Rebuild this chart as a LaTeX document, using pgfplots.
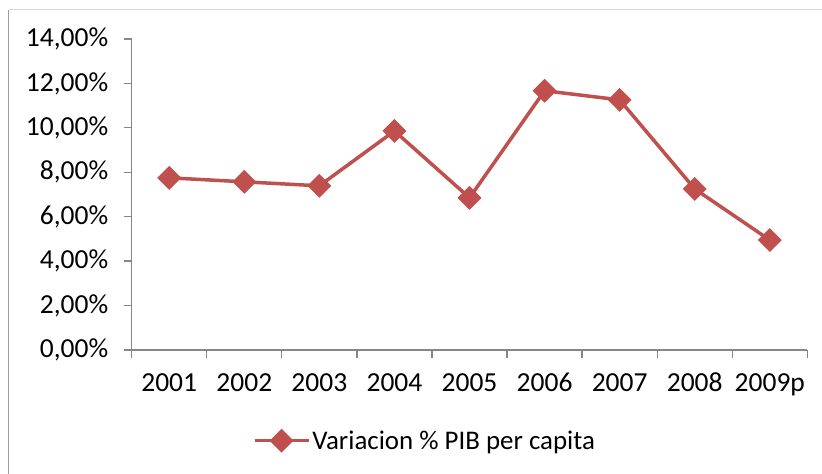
\documentclass[border=0pt]{standalone}
\usepackage{fontspec}
\setmainfont{Carlito}
\usepackage{pgfplots}
\pgfplotsset{compat=1.18}
\definecolor{exred}{HTML}{C0504D}
\definecolor{axgray}{HTML}{868686}
\begin{document}
\begin{tikzpicture}[x=1bp,y=1bp]
\path[use as bounding box] (0,0) rectangle (822,474);
\draw[color=axgray!80, line width=1.2bp] (8.5,0) -- (8.5,464);
\draw[color=black!15, line width=1bp] (8.5,464) -- (822,464);
\begin{axis}[
 at={(131.7bp,124bp)}, anchor=south west,
 scale only axis, width=675.6bp, height=311bp,
 xmin=0, xmax=9, ymin=0, ymax=14,
 axis x line=bottom, axis y line=left,
 axis line style={-, axgray, line width=1.3bp},
 xtick={0,...,9},
 xticklabels={2001,2002,2003,2004,2005,2006,2007,2008,2009p},
 x tick label as interval,
 ytick={0,2,...,14},
 yticklabels={{0,00\%},{2,00\%},{4,00\%},{6,00\%},{8,00\%},{10,00\%},{12,00\%},{14,00\%}},
 tick align=outside, major tick length=8bp,
 tick style={axgray, line width=1.3bp},
 ticklabel style={font=\fontsize{27.6}{33}\selectfont, text=black},
 xticklabel style={text height=18bp, text depth=6bp, yshift=-12bp},
 yticklabel style={xshift=-12bp},
 /pgf/number format/assume math mode=true,
 clip=false,
 legend image code/.code={\draw[mark repeat=2,mark phase=2,#1] plot coordinates {(0bp,0bp) (27bp,0bp) (54bp,0bp)};},
 legend style={draw=none, fill=none, at={(0.179,-0.2916)}, anchor=west, inner sep=0pt,
   font=\fontsize{27}{32}\selectfont, column sep=0pt, nodes={inner xsep=2bp}},
]
\addplot[exred, line width=3.5bp, mark=square*, mark size=6.7bp, mark options={rotate=45, solid}] coordinates {
(0.5,7.75) (1.5,7.57) (2.5,7.39) (3.5,9.86) (4.5,6.85) (5.5,11.67) (6.5,11.26) (7.5,7.25) (8.5,4.95)};
\legend{Variacion \% PIB per capita}
\end{axis}
\end{tikzpicture}
\end{document}
